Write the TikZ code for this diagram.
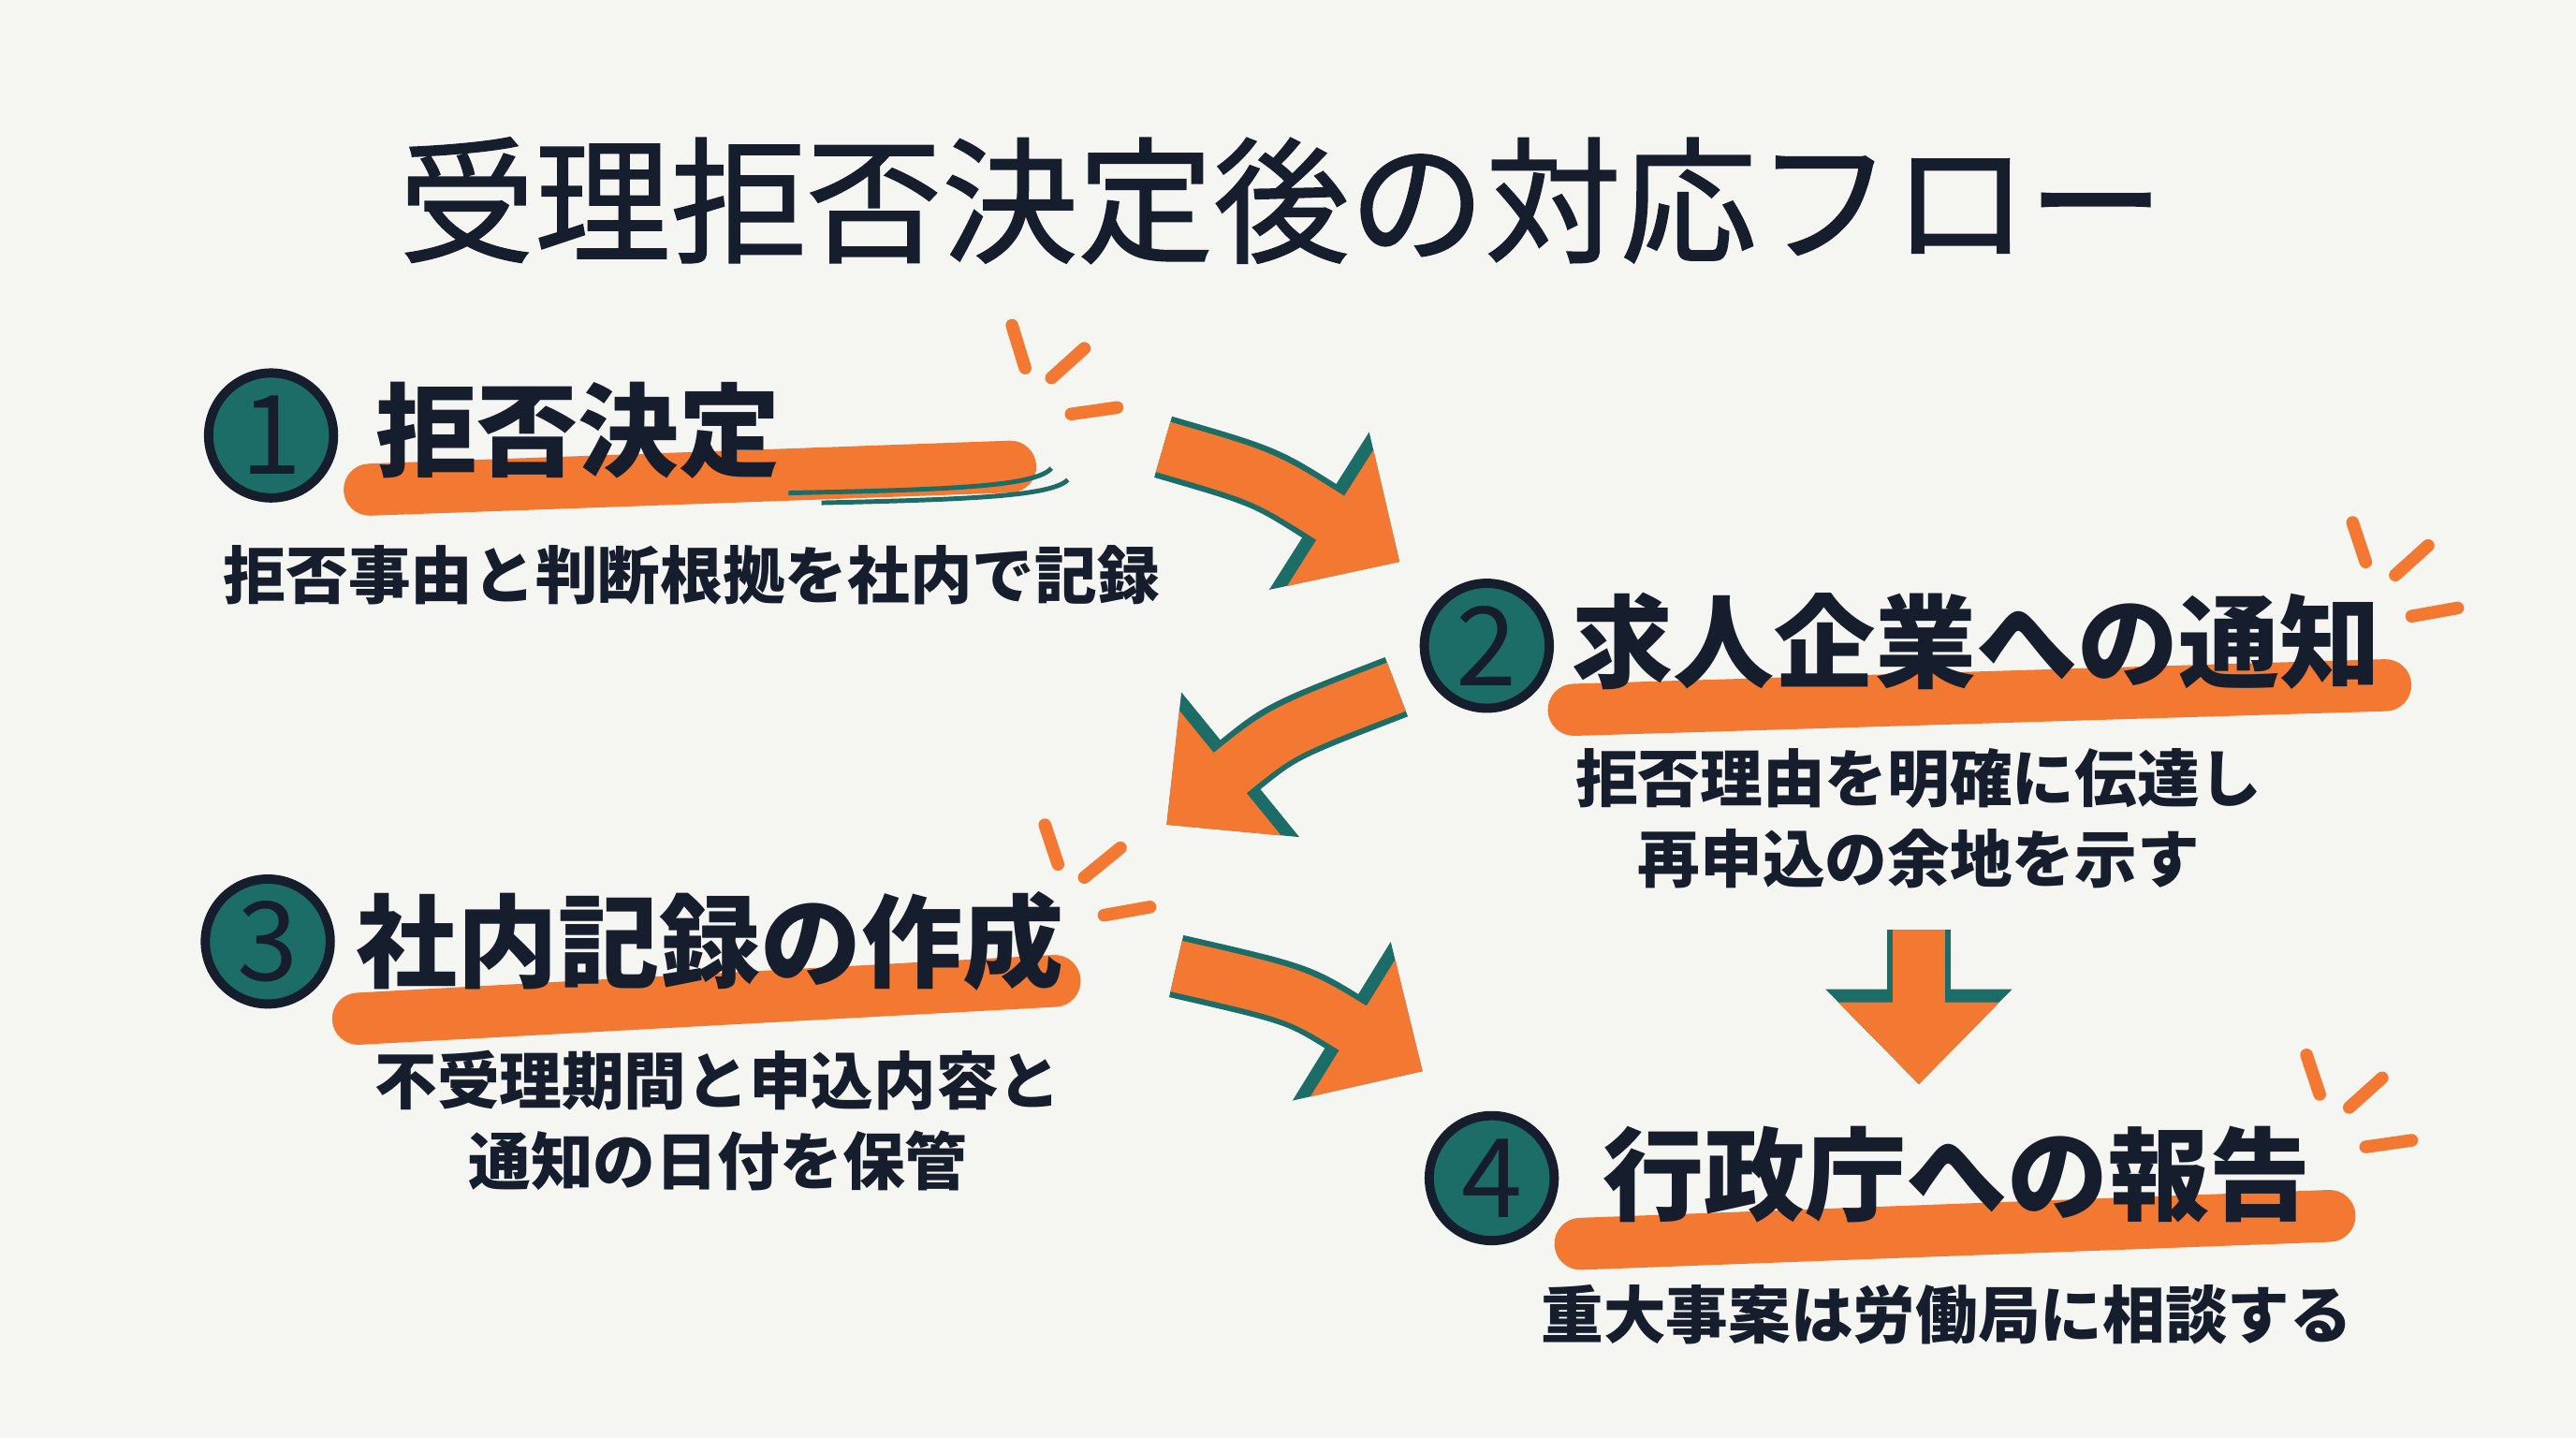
\documentclass[tikz,border=0pt]{standalone}
\usepackage{fontspec}
\setmainfont{Noto Sans CJK JP}
\newfontfamily\titlefont[FakeBold=1.2]{Noto Sans CJK JP}
\usetikzlibrary{arrows.meta}
\definecolor{bgc}{RGB}{245,245,242}
\definecolor{ora}{RGB}{243,120,50}
\definecolor{teal}{RGB}{28,108,104}
\definecolor{ink}{RGB}{22,30,45}
\tikzset{
  num/.style={circle, fill=teal, draw=ink, line width=1.6pt, minimum size=0.76cm, inner sep=0pt,
    text=ink, font=\fontsize{19}{19}\selectfont},
  head/.style={anchor=west, text=ink, font=\fontsize{17.5}{20}\selectfont\bfseries, inner sep=0pt},
  sub/.style={text=ink, align=center, font=\fontsize{10.8}{14}\selectfont\bfseries, inner sep=0pt},
  stroke/.style={ora, line width=9pt, line cap=round},
  flick/.style={ora, line width=2.2pt, line cap=round},
  bigarrow/.style={ora, line width=9pt, -{Triangle[length=0.5cm,width=0.95cm]},
    preaction={draw=teal, line width=11pt, -{Triangle[length=0.58cm,width=1.1cm]}}},
}
\begin{document}
\begin{tikzpicture}[x=0.01cm,y=-0.01cm]
  \fill[bgc] (0,0) rectangle (1568,875);
  \useasboundingbox (0,0) rectangle (1568,875);
  \node[text=ink, font=\fontsize{23.5}{27}\titlefont] (title) at (780,122) {受理拒否決定後の対応フロー};

  % step 1
  \draw[stroke] (225,298) -- (615,284);
  \draw[teal, line width=0.8pt] (480,300) .. controls (580,298) and (630,296) .. (640,285);
  \draw[teal, line width=0.8pt] (500,306) .. controls (590,304) and (640,302) .. (650,292);
  \node[num] (n1) at (165,265) {1};
  \node[head] (h1) at (228,262) {拒否決定};
  \node[sub] (s1) at (421,350) {拒否事由と判断根拠を社内で記録};
  \draw[flick] (616,198) -- (624,224);
  \draw[flick] (640,230) -- (660,212);
  \draw[flick] (652,252) -- (680,248);

  % step 2
  \draw[stroke] (958,432) -- (1452,417);
  \node[num] (n2) at (905,393) {2};
  \node[head] (h2) at (956,390) {求人企業への通知};
  \node[sub] (s2) at (1168,498) {拒否理由を明確に伝達し\\再申込の余地を示す};
  \draw[flick] (1432,318) -- (1440,342);
  \draw[flick] (1458,350) -- (1478,332);
  \draw[flick] (1468,375) -- (1496,370);

  % step 3
  \draw[stroke] (218,620) -- (642,597);
  \node[num] (n3) at (163,573) {3};
  \node[head] (h3) at (216,573) {社内記録の作成};
  \node[sub] (s3) at (437,682) {不受理期間と申込内容と\\通知の日付を保管};
  \draw[flick] (636,502) -- (644,526);
  \draw[flick] (660,534) -- (682,516);
  \draw[flick] (672,557) -- (700,552);

  % step 4
  \draw[stroke] (962,757) -- (1418,740);
  \node[num] (n4) at (908,717) {4};
  \node[head] (h4) at (975,715) {行政庁への報告};
  \node[sub] (s4) at (1185,800) {重大事案は労働局に相談する};
  \draw[flick] (1404,642) -- (1412,666);
  \draw[flick] (1430,674) -- (1450,656);
  \draw[flick] (1440,698) -- (1468,694);

  % flow arrows
  \coordinate (a1s) at (708,272);
  \coordinate (a1e) at (852,342);
  \coordinate (a2s) at (850,418);
  \coordinate (a2e) at (710,502);
  \coordinate (a3s) at (716,588);
  \coordinate (a3e) at (866,652);
  \coordinate (a4s) at (1168,566);
  \coordinate (a4e) at (1168,660);
  \draw[bigarrow] (a1s) .. controls (770,290) .. (a1e);
  \draw[bigarrow] (a2s) .. controls (780,445) .. (a2e);
  \draw[bigarrow] (a3s) .. controls (790,605) .. (a3e);
  \draw[bigarrow] (a4s) -- (a4e);
\end{tikzpicture}
\end{document}
